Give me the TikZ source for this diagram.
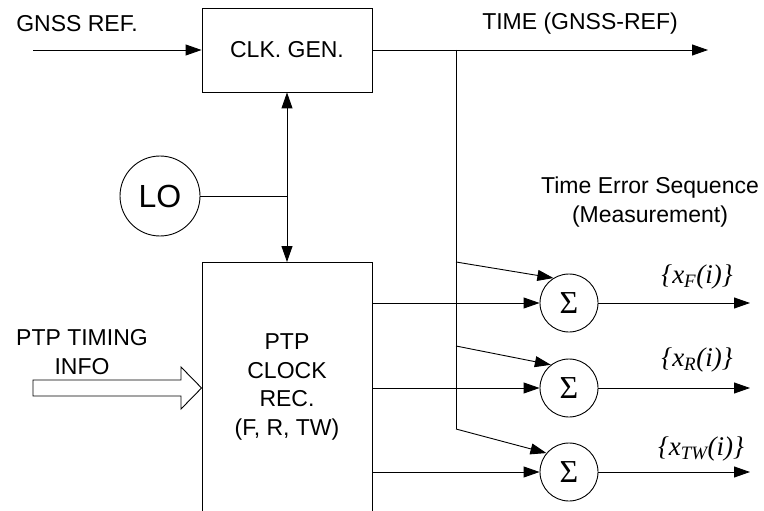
\documentclass[tikz,border=0pt]{standalone}
\usepackage{fontspec}
\setmainfont{Liberation Sans}
\newfontfamily\serifit{Liberation Serif}
\usetikzlibrary{arrows.meta}

\begin{document}
\begin{tikzpicture}[
  x=1pt, y=-1pt,
  line width=0.9pt,
  every node/.style={font=\fontsize{23}{28.5}\selectfont},
  block/.style={draw, minimum width=170pt, inner sep=0pt},
  sumnode/.style={circle, draw, minimum size=58pt, inner sep=0pt, font=\serifit\fontsize{32}{32}\selectfont},
  lo/.style={circle, draw, minimum size=80pt, inner sep=0pt, font=\fontsize{32}{32}\selectfont},
  seq/.style={font=\serifit\itshape\fontsize{27}{27}\selectfont},
  arr/.style={-{Triangle[length=16pt, width=11pt]}},
  dbl/.style={{Triangle[length=16pt, width=11pt]}-{Triangle[length=16pt, width=11pt]}}
]
\clip (0,0) rectangle (764,511);

\node[block, minimum height=84pt] (clk) at (287,50) {CLK. GEN.};
\node[block, minimum height=280pt, anchor=north] (ptp) at (287,262) {};
\node[align=center] (ptplbl) at (287,387) {PTP\\CLOCK\\REC.\\(F, R, TW)};
\node[lo] (lo) at (160,196) {LO};

\node (gnsslbl) at (77,24) {GNSS REF.};
\node (timelbl) at (580,24) {TIME (GNSS-REF)};
\node[align=center] (telbl) at (650,202) {Time Error Sequence\\(Measurement)};
\node[align=center] (ptpin) at (82,352) {PTP TIMING\\INFO};

\node[sumnode] (s1) at (569,303) {Σ};
\node[sumnode] (s2) at (569,388) {Σ};
\node[sumnode] (s3) at (569,472) {Σ};

\node[seq] (xf) at (697,277) {\{x\textsubscript{F}(i)\}};
\node[seq] (xr) at (697,360) {\{x\textsubscript{R}(i)\}};
\node[seq] (xtw) at (701,449) {\{x\textsubscript{TW}(i)\}};

\coordinate (gnss) at (33,50);
\coordinate (timeend) at (708,50);
\coordinate (tap) at (456,50);
\coordinate (b1) at (456,262);
\coordinate (b2) at (456,346);
\coordinate (b3) at (456,429);
\coordinate (loj) at (287,196);

\draw[arr] (gnss) -- (clk.west);
\draw[arr] (clk.east) -- (timeend);
\draw (tap) -- (b3);
\draw[dbl] (clk.south) -- (ptp.north);
\draw (lo.east) -- (loj);

\draw (33,380) -- (181,380) -- (181,367) -- (ptp.west |- s2)
  -- (181,409) -- (181,396) -- (33,396) -- cycle;

\draw[arr] (b1) -- (s1.122);
\draw[arr] (b2) -- (s2.128);
\draw[arr] (b3) -- (s3.140);

\foreach \s in {s1,s2,s3} {
  \draw[arr] (ptp.east |- \s) -- (\s);
  \draw[arr] (\s) -- (750,0 |- \s);
}
\end{tikzpicture}
\end{document}
